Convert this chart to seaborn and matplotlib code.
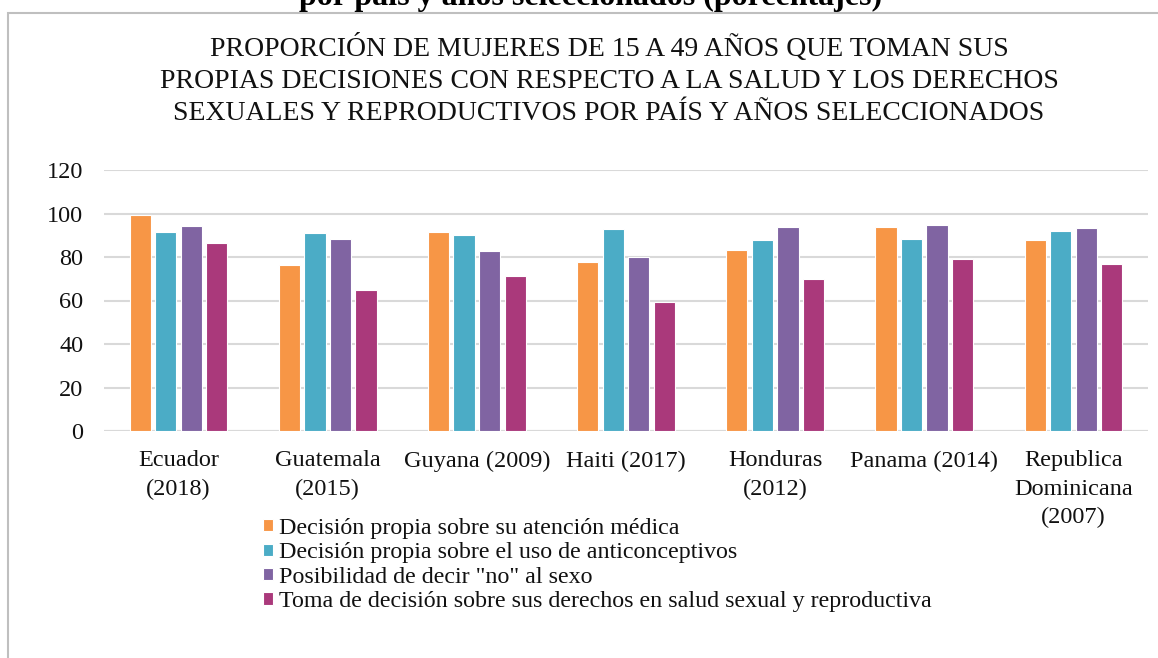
import matplotlib
matplotlib.use("Agg")
import matplotlib.pyplot as plt
import pandas as pd
import seaborn as sns
from matplotlib.patches import Rectangle

# Datos
paises = ["Ecuador\n(2018)", "Guatemala\n(2015)", "Guyana (2009)", "Haiti (2017)",
          "Honduras\n(2012)", "Panama (2014)", "Republica\nDominicana\n(2007)"]
series = ["Decisión propia sobre su atención médica",
          "Decisión propia sobre el uso de anticonceptivos",
          "Posibilidad de decir \"no\" al sexo",
          "Toma de decisión sobre sus derechos en salud sexual y reproductiva"]
atencion = [99.5, 76.4, 91.7, 77.9, 83.4, 94.0, 87.9]
anticonceptivos = [91.7, 91.2, 90.3, 92.9, 87.9, 88.5, 92.0]
decir_no = [94.3, 88.5, 82.8, 80.2, 94.0, 94.8, 93.2]
derechos = [86.5, 64.8, 71.2, 59.1, 70.0, 78.9, 76.7]

colores = ["#F79646", "#4BACC6", "#8064A2", "#AA397B"]

df = pd.DataFrame({
    "Pais": paises * 4,
    "Serie": [s for s in series for _ in paises],
    "Valor": atencion + anticonceptivos + decir_no + derechos,
})

sns.set_theme(style="white")
plt.rcParams["font.family"] = ["Liberation Serif", "DejaVu Serif"]
texto = "#111111"

W, H = 1158, 658
fig = plt.figure(figsize=(W / 100, H / 100), dpi=100)
ax = fig.add_axes([104 / W, 1 - 431 / H, (1148 - 104) / W, (431 - 170) / H])

sns.barplot(data=df, x="Pais", y="Valor", hue="Serie", palette=colores,
            saturation=1, width=0.685, gap=0.17, edgecolor="white",
            linewidth=0.8, ax=ax, legend=True)

ax.set_ylim(0, 120)
ax.set_yticks(range(0, 121, 20))
ax.yaxis.grid(True, color="#d9d9d9", linewidth=1.5)
ax.set_axisbelow(True)
for s in ax.spines.values():
    s.set_visible(False)
ax.axhline(0, color="#d9d9d9", linewidth=1.5, zorder=0)
ax.set_xlabel("")
ax.set_ylabel("")
ax.tick_params(axis="y", length=0, pad=15, labelsize=17.5, labelcolor=texto)
ax.tick_params(axis="x", length=0, pad=14, labelsize=17.5, labelcolor=texto)
for lbl in ax.get_xticklabels():
    lbl.set_verticalalignment("top")
    lbl.set_multialignment("center")
    lbl.set_linespacing(1.45)

# Leyenda debajo del gráfico
handles, labels = ax.get_legend_handles_labels()
ax.get_legend().remove()
fig.legend(handles, labels, loc="upper left", bbox_to_anchor=(263 / W, 1 - 518 / H),
           frameon=False, fontsize=17.3, labelcolor=texto, handlelength=0.4,
           handleheight=0.4, handletextpad=0.25, labelspacing=0.14,
           borderaxespad=0, borderpad=0)

# Título del gráfico
fig.text(609 / W, 1 - 34 / H,
         "PROPORCIÓN DE MUJERES DE 15 A 49 AÑOS QUE TOMAN SUS\n"
         "PROPIAS DECISIONES CON RESPECTO A LA SALUD Y LOS DERECHOS\n"
         "SEXUALES Y REPRODUCTIVOS POR PAÍS Y AÑOS SELECCIONADOS",
         ha="center", va="top", fontsize=20, color=texto, linespacing=1.38)

# Título del documento cortado arriba
fig.text(591 / W, 1 - 5 / H, "por país y años seleccionados (porcentajes)",
         ha="center", va="baseline", fontsize=23, fontweight="bold", color="black")

# Marco del gráfico
fig.patches.append(Rectangle((8 / W, -0.05), 1.2, 1 - 13 / H + 0.05,
                             transform=fig.transFigure, fill=False,
                             edgecolor="#bfbfbf", linewidth=1.5))

fig.savefig("out.png", dpi=100, facecolor="white")
